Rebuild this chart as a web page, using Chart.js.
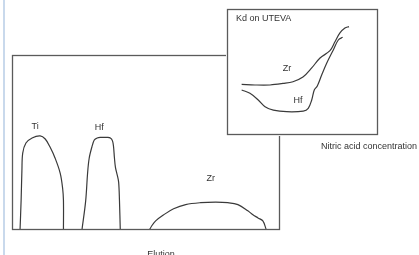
<!DOCTYPE html>
<html>
<head>
<meta charset="utf-8">
<script src="https://cdn.jsdelivr.net/npm/chart.js@4"></script>
<style>
  html, body { margin:0; padding:0; background:#fff; }
  body { width:419px; height:255px; position:relative; overflow:hidden; }
  #edge { position:absolute; left:3px; top:0; width:2px; height:255px; background:#c9d9ec; }
  #mainWrap { position:absolute; left:0; top:0; width:419px; height:255px; }
  #insetWrap { position:absolute; left:226px; top:8px; width:153px; height:128px; background:#fff; }
</style>
</head>
<body>
<div id="edge"></div>
<div id="mainWrap"><canvas id="main" width="419" height="255"></canvas></div>
<div id="insetWrap"><canvas id="inset" width="153" height="128"></canvas></div>
<script>
// ---- Main elution profile (arbitrary units 0..100) ----
const tiX = [3.0, 3.4, 3.7, 4.0, 5.2, 7.5, 10.5, 12.4, 14.2, 16.1, 18.0, 18.9, 19.2, 19.2];
const tiY = [0, 16.8, 34.1, 43.9, 49.7, 52.6, 53.8, 52.0, 47.4, 41.0, 32.4, 23.7, 16.8, 0];
const hfX = [26.1, 27.5, 28.2, 28.8, 29.8, 30.7, 31.8, 33.0, 35.6, 36.7, 37.5, 37.9, 38.2, 38.6, 39.3, 39.8, 40.1, 40.4];
const hfY = [0, 16.8, 32.4, 41.0, 47.4, 51.4, 52.6, 52.9, 52.9, 52.6, 50.9, 47.4, 41.6, 35.8, 31.2, 27.2, 16.8, 0];
const zrX = [51.3, 52.1, 53.6, 56.6, 60.3, 64.8, 70.4, 76.0, 80.5, 84.3, 88.0, 89.9, 91.8, 93.6, 94.8];
const zrY = [0, 2.3, 5.2, 8.7, 12.1, 14.5, 15.6, 15.9, 15.6, 14.5, 11.0, 8.7, 6.9, 5.2, 0.6];
const mainLabels = ["Ti", "Hf", "Zr"];
const mainLabelX = [8.6, 32.6, 74.2];
const mainLabelY = [59.0, 58.4, 29.5];
const mainAxisTitle = "Elution";

// ---- Inset: Kd on UTEVA vs nitric acid ----
const kdZrX = [9.7, 18.5, 28.5, 37.1, 43.7, 50.3, 56.1, 61.6, 68.2, 71.5, 74.8, 78.1, 80.8];
const kdZrY = [40.2, 39.7, 39.7, 40.9, 42.3, 46.0, 53.2, 61.1, 66.9, 74.0, 81.0, 84.9, 86.0];
const kdHfX = [9.7, 15.2, 20.7, 25.2, 30.7, 39.5, 50.5, 53.8, 56.1, 57.8, 59.8, 62.7, 66.0, 70.4, 73.7, 76.6];
const kdHfY = [35.7, 33.1, 27.8, 22.5, 19.8, 18.5, 19.0, 21.2, 27.8, 35.7, 38.9, 47.6, 56.9, 67.5, 75.4, 77.5];
const insetLabels = ["Zr", "Hf"];
const insetLabelX = [39.7, 47.0];
const insetLabelY = [52.4, 27.0];
const insetTitle = "Kd on UTEVA";
const insetAxisTitle = "Nitric acid concentration";

const FONT = "'Liberation Sans', Arial, sans-serif";
const LINE = "#3a3a3a";
const TEXT = "#333";

function pts(xs, ys) { return xs.map((x, i) => ({ x: x, y: ys[i] })); }
function ds(xs, ys) {
  return { data: pts(xs, ys), showLine: true, borderColor: LINE, borderWidth: 1.2,
           pointRadius: 0, tension: 0.35, fill: false };
}

const boxPlugin = {
  id: 'box',
  beforeDraw(chart, args, opts) {
    const c = chart.ctx;
    if (opts.bg) { c.save(); c.fillStyle = '#fff'; c.fillRect(0, 0, chart.width, chart.height); c.restore(); }
  },
  afterDatasetsDraw(chart, args, opts) {
    const c = chart.ctx, a = chart.chartArea;
    c.save();
    c.strokeStyle = '#5a5a5a'; c.lineWidth = 1.3;
    c.strokeRect(Math.round(a.left) + 0.5, Math.round(a.top) + 0.5,
                 Math.round(a.right - a.left) - 1, Math.round(a.bottom - a.top) - 1);
    c.fillStyle = TEXT; c.textAlign = 'center'; c.textBaseline = 'middle';
    c.font = "9px " + FONT;
    const xs = chart.scales.x, ys = chart.scales.y;
    (opts.labels || []).forEach((t, i) => {
      c.fillText(t, xs.getPixelForValue(opts.lx[i]), ys.getPixelForValue(opts.ly[i]));
    });
    (opts.extra || []).forEach(e => {
      c.textAlign = e.align || 'left';
      c.textBaseline = e.base || 'middle';
      c.font = (e.size || 9) + "px " + FONT;
      c.fillText(e.text, e.px, e.py);
    });
    c.restore();
  }
};

const scaleOpts = (min, max) => ({ type: 'linear', min: min, max: max, display: false });

new Chart(document.getElementById('main'), {
  type: 'scatter',
  data: { datasets: [ds(tiX, tiY), ds(hfX, hfY), ds(zrX, zrY)] },
  options: {
    responsive: false, animation: false, events: [],
    layout: { padding: { left: 12, top: 55, right: 139, bottom: 25 } },
    scales: { x: scaleOpts(0, 100), y: scaleOpts(0, 100) },
    plugins: {
      legend: { display: false }, tooltip: { enabled: false },
      box: {
        labels: mainLabels, lx: mainLabelX, ly: mainLabelY,
        extra: [
          { text: mainAxisTitle, px: 161, py: 250, align: 'center', base: 'top', size: 9 },
          { text: insetAxisTitle, px: 321, py: 147, align: 'left', base: 'middle', size: 9 }
        ]
      }
    }
  },
  plugins: [boxPlugin]
});

new Chart(document.getElementById('inset'), {
  type: 'scatter',
  data: { datasets: [ds(kdZrX, kdZrY), ds(kdHfX, kdHfY)] },
  options: {
    responsive: false, animation: false, events: [],
    layout: { padding: { left: 1, top: 1, right: 1, bottom: 1 } },
    scales: { x: scaleOpts(0, 100), y: scaleOpts(0, 100) },
    plugins: {
      legend: { display: false }, tooltip: { enabled: false },
      box: {
        bg: true,
        labels: insetLabels, lx: insetLabelX, ly: insetLabelY,
        extra: [ { text: insetTitle, px: 10, py: 11, align: 'left', base: 'middle', size: 9 } ]
      }
    }
  },
  plugins: [boxPlugin]
});
</script>
</body>
</html>
